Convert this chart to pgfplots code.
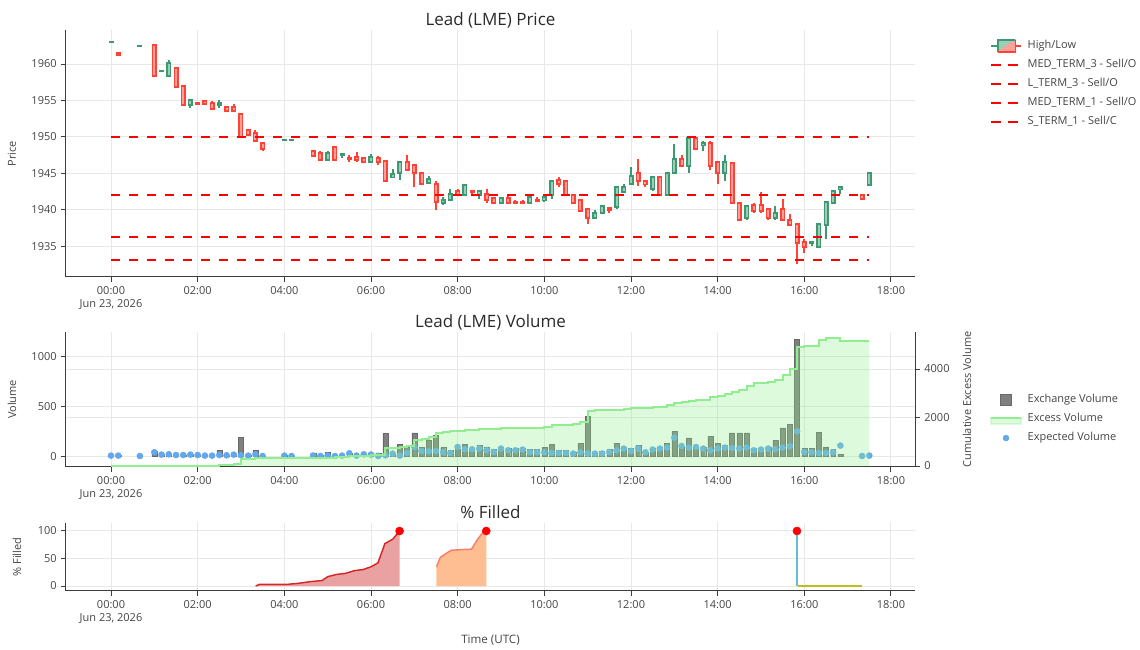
\documentclass[border=0pt]{standalone}
\usepackage{fontspec}
\setmainfont{Open Sans}
\usepackage{pgfplots}
\usepackage{pgfplotstable}
\pgfplotsset{compat=1.18}

\definecolor{incg}{RGB}{61,153,112}
\definecolor{incf}{RGB}{158,204,183}
\definecolor{decr}{RGB}{255,65,54}
\definecolor{decf}{RGB}{255,160,154}
\definecolor{txt}{RGB}{68,68,68}
\definecolor{ttl}{RGB}{42,42,42}
\definecolor{gridc}{RGB}{232,232,232}
\definecolor{axc}{RGB}{60,60,60}
\definecolor{barc}{RGB}{128,128,128}
\definecolor{barl}{RGB}{105,105,105}
\definecolor{exg}{RGB}{144,238,144}
\definecolor{expb}{RGB}{99,168,236}
\definecolor{fred}{RGB}{214,39,40}
\definecolor{fredf}{RGB}{233,161,161}
\definecolor{forl}{RGB}{250,125,105}
\definecolor{forf}{RGB}{255,190,145}
\definecolor{fteal}{RGB}{98,190,212}
\definecolor{folv}{RGB}{188,189,34}
\definecolor{folvf}{RGB}{232,233,175}

\newcommand{\tf}{\fontsize{8.25}{9.6}\selectfont}
\newcommand{\ttf}{\fontsize{12.75}{15}\selectfont}

% increasing candles: i o h l c  (i = 10-minute slot)
\pgfplotstableread{
i o h l c
0 1963.0 1963.0 1963.0 1963.0
4 1962.5 1962.5 1962.5 1962.5
7 1959.0 1959.0 1959.0 1959.0
8 1958.4 1960.55 1958.4 1960.1
11 1954.4 1955.0 1954.0 1955.0
15 1954.4 1955.0 1954.0 1954.6
24 1949.55 1949.55 1949.55 1949.55
25 1949.55 1949.55 1949.55 1949.55
30 1946.9 1948.0 1946.9 1947.8
32 1947.5 1947.6 1947.1 1947.6
36 1946.5 1947.6 1946.5 1947.3
39 1944.5 1945.6 1944.3 1944.9
40 1945.0 1946.6 1944.1 1946.6
44 1943.7 1944.6 1943.6 1944.2
46 1941.0 1941.8 1940.6 1941.4
47 1941.4 1942.9 1941.4 1942.2
49 1942.0 1943.6 1942.0 1943.4
51 1942.0 1942.6 1941.5 1942.6
54 1940.95 1941.8 1940.95 1941.6
58 1940.95 1941.8 1940.95 1941.8
60 1941.3 1941.8 1941.05 1941.7
61 1942.0 1944.0 1941.5 1944.0
67 1938.9 1940.0 1938.9 1939.6
68 1939.6 1940.5 1939.4 1940.5
70 1940.4 1943.1 1940.15 1943.1
71 1942.5 1943.6 1942.5 1943.1
72 1943.5 1945.9 1943.5 1944.6
75 1942.9 1944.5 1942.6 1944.5
77 1942.0 1945.05 1942.0 1945.05
78 1945.0 1949.0 1945.0 1947.0
80 1946.0 1949.8 1945.05 1949.8
82 1948.9 1949.5 1948.0 1949.2
85 1945.0 1947.5 1944.0 1946.5
88 1938.9 1940.5 1938.55 1940.5
92 1938.9 1940.5 1938.55 1939.55
97 1935.4 1935.55 1935.1 1935.55
98 1934.9 1938.1 1934.9 1938.1
99 1937.95 1941.05 1936.0 1941.05
100 1941.0 1942.6 1941.0 1942.6
101 1942.8 1943.1 1942.1 1943.1
105 1943.45 1945.1 1943.45 1945.1
}\incdata

% decreasing candles: i o h l c
\pgfplotstableread{
i o h l c
1 1961.5 1961.5 1961.1 1961.3
6 1962.6 1962.6 1958.4 1958.4
9 1959.5 1959.5 1956.9 1956.9
10 1957.0 1957.0 1954.4 1954.4
12 1954.6 1954.6 1954.5 1954.5
13 1955.0 1955.0 1954.5 1954.5
14 1954.6 1955.0 1953.9 1953.9
16 1954.1 1954.1 1953.5 1953.5
17 1954.1 1954.5 1953.5 1953.5
18 1953.1 1953.1 1949.95 1949.95
19 1951.0 1951.0 1950.1 1950.3
20 1950.6 1951.0 1949.5 1949.5
21 1949.1 1949.1 1948.1 1948.4
28 1948.0 1948.0 1947.4 1947.4
29 1947.8 1948.0 1946.9 1946.9
31 1948.6 1948.6 1946.9 1946.9
33 1947.1 1947.5 1946.6 1946.95
34 1947.2 1947.95 1946.5 1946.9
35 1947.1 1947.1 1946.5 1946.5
37 1947.1 1947.4 1946.1 1946.5
38 1946.7 1946.7 1944.0 1944.0
41 1946.6 1947.5 1945.5 1945.5
42 1946.1 1946.1 1943.1 1945.0
43 1945.0 1945.0 1943.5 1943.5
45 1943.6 1944.0 1940.0 1941.1
48 1942.6 1942.9 1942.0 1942.0
50 1942.6 1942.6 1942.2 1942.4
52 1942.2 1942.9 1941.0 1941.3
53 1941.6 1941.6 1940.95 1940.95
55 1941.6 1941.9 1940.95 1940.95
56 1941.1 1941.3 1940.95 1940.95
57 1941.1 1941.4 1940.95 1940.95
59 1941.4 1941.8 1941.25 1941.25
62 1944.1 1944.5 1943.1 1943.5
63 1944.0 1944.0 1942.0 1942.0
64 1942.0 1942.0 1940.95 1940.95
65 1941.3 1941.3 1939.9 1939.9
66 1940.1 1940.1 1938.1 1938.9
69 1940.2 1940.2 1939.6 1940.0
73 1945.1 1947.0 1943.2 1944.0
74 1944.0 1944.0 1943.2 1943.5
76 1944.5 1944.5 1942.0 1942.0
79 1947.0 1947.5 1946.0 1946.0
81 1949.8 1949.8 1948.4 1948.4
83 1949.2 1949.5 1945.5 1946.0
84 1946.5 1946.5 1943.6 1945.0
86 1946.5 1946.5 1940.95 1940.95
87 1941.0 1941.0 1938.55 1938.55
89 1940.6 1940.95 1939.55 1939.9
90 1940.6 1942.5 1939.55 1939.9
91 1940.1 1940.1 1938.55 1938.9
93 1940.1 1941.45 1938.55 1938.55
94 1938.6 1939.45 1937.95 1937.95
95 1938.1 1938.1 1932.6 1935.45
96 1935.55 1936.0 1934.05 1934.9
104 1942.1 1942.1 1941.5 1941.5
}\decdata

% exchange volume bars: i v
\pgfplotstableread{
i v
0 10
1 8
4 5
6 53
7 20
8 20
9 15
10 15
11 20
12 15
13 10
14 10
15 60
16 12
17 20
18 187
19 10
20 60
21 5
24 8
25 5
28 33
29 10
30 40
31 10
32 15
33 30
34 15
35 25
36 33
37 33
38 227
39 30
40 120
41 87
42 233
43 87
44 160
45 207
46 87
47 60
48 67
49 120
50 67
51 110
52 93
53 67
54 87
55 77
56 77
57 77
58 67
59 67
60 87
61 120
62 60
63 60
64 43
65 127
66 400
67 43
68 50
69 67
70 127
71 87
72 77
73 107
74 43
75 83
76 93
77 127
78 250
79 93
80 183
81 87
82 87
83 200
84 127
85 110
86 233
87 233
88 233
89 77
90 77
91 93
92 160
93 283
94 317
95 1167
96 77
97 77
98 240
99 93
100 67
101 20
}\voldata

% expected volume dots: i e
\pgfplotstableread{
i e
0 7
1 7
4 3
6 40
7 17
8 20
9 13
10 13
11 17
12 13
13 7
14 7
15 13
16 10
17 17
18 10
19 7
20 20
21 3
24 7
25 3
28 7
29 3
30 7
31 3
32 7
33 30
34 7
35 20
36 17
37 3
38 10
39 27
40 7
41 33
42 93
43 53
44 50
45 53
46 40
47 33
48 93
49 70
50 70
51 77
52 60
53 43
54 77
55 60
56 60
57 67
58 40
59 40
60 40
61 33
62 33
63 33
64 27
65 40
66 27
67 27
68 27
69 43
70 60
71 77
72 53
73 77
74 40
75 67
76 77
77 87
78 187
79 103
80 87
81 93
82 77
83 60
84 77
85 87
86 83
87 77
88 87
89 60
90 67
91 77
92 70
93 87
94 100
95 250
96 43
97 40
98 33
99 33
100 40
101 107
104 3
105 7
}\expdata

% cumulative excess volume: i x
\pgfplotstableread{
i x
0 0
1 0
2 0
3 0
4 0
5 0
6 5
7 5
8 8
9 8
10 10
11 10
12 12
13 12
14 20
15 40
16 50
17 70
18 276
19 280
20 316
21 316
22 318
23 320
24 322
25 324
26 326
27 328
28 335
29 340
30 350
31 355
32 360
33 400
34 410
35 420
36 440
37 460
38 728
39 740
40 800
41 840
42 1072
43 1100
44 1182
45 1347
46 1416
47 1430
48 1440
49 1485
50 1490
51 1520
52 1540
53 1545
54 1555
55 1560
56 1562
57 1565
58 1575
59 1580
60 1620
61 1690
62 1700
63 1710
64 1720
65 1800
66 2280
67 2290
68 2300
69 2305
70 2330
71 2345
72 2378
73 2400
74 2405
75 2430
76 2446
77 2500
78 2610
79 2620
80 2680
81 2722
82 2730
83 2830
84 2880
85 2955
86 3060
87 3134
88 3300
89 3436
90 3440
91 3450
92 3546
93 3753
94 3986
95 4921
96 4940
97 4960
98 5196
99 5265
100 5265
101 5170
102 5170
103 5170
104 5165
105 5165
}\excdata

\pgfplotsset{
  base/.style={
    scale only axis, width=636.75pt, anchor=south west,
    xmin=-1.0385, xmax=18.554,
    xtick={0,2,...,18},
    xticklabels={{00:00\\Jun 23, 2026},02:00,04:00,06:00,08:00,10:00,12:00,14:00,16:00,18:00},
    xticklabel style={align=center, font=\tf, text=txt},
    yticklabel style={font=\tf, text=txt},
    /pgf/number format/assume math mode=true,
    /pgf/number format/1000 sep={},
    scaled y ticks=false,
    axis x line*=bottom, axis y line*=left,
    axis line style={axc, line width=0.75pt},
    tick align=outside, major tick length=3.5pt,
    tick style={axc, line width=0.75pt},
    xmajorgrids, ymajorgrids,
    grid style={gridc, line width=0.75pt},
    title style={font=\ttf, text=ttl, anchor=center, at={(axis description cs:0.5,1)}},
    ylabel style={font=\tf, text=txt, anchor=center},
    legend cell align=left,
    legend style={draw=none, fill=none, font=\tf, text=txt, anchor=north west,
      inner sep=0pt, outer sep=0pt, row sep=2.25pt,
      nodes={inner sep=2pt, text height=6pt, text depth=2pt},
      /tikz/every odd column/.append style={column sep=2pt}},
  },
  cndl/.style 2 args={forget plot, draw=none, mark=none,
    error bars/.cd, y dir=both, y explicit, error mark=none,
    error bar style={solid, line width=#2, draw=#1}},
  hline/.style={red, dash pattern=on 6.5pt off 7pt, line width=1.5pt,
    legend image code/.code={\draw[red, line width=1.5pt, dash pattern=on 7.5pt off 5pt] (0pt,0pt) -- (22.5pt,0pt);}},
}

\begin{document}
\begin{tikzpicture}
\useasboundingbox (0,0) rectangle (855pt,487.5pt);

% ---------------- Price ----------------
\begin{axis}[base, at={(49.5pt,279.75pt)}, height=185.25pt,
  ymin=1930.78, ymax=1964.67, ytick={1935,1940,...,1960},
  title={Lead (LME) Price}, title style={yshift=1.5pt},
  ylabel={Price}, ylabel style={at={(axis description cs:-0.0636,0.5)}},
  legend style={at={(axis description cs:1.0887,0.968)}}]
\addlegendimage{legend image code/.code={
  \draw[incg, line width=1.2pt] (0pt,0pt) -- (5pt,0pt);
  \fill[incf] (5pt,-4.5pt) -- (5pt,4.5pt) -- (18pt,4.5pt) -- cycle;
  \fill[decf] (5pt,-4.5pt) -- (18pt,-4.5pt) -- (18pt,4.5pt) -- cycle;
  \draw[incg, line width=1.2pt] (5pt,-4.5pt) -- (5pt,4.5pt) -- (18pt,4.5pt);
  \draw[decr, line width=1.2pt] (5pt,-4.5pt) -- (18pt,-4.5pt) -- (18pt,4.5pt);
  \draw[decr, line width=1.2pt] (18pt,0pt) -- (22.5pt,0pt);}}
\addlegendentry{High/Low}
% wicks
\addplot[cndl={incg}{1.5pt}] table[x expr=\thisrow{i}/6, y expr={(\thisrow{h}+\thisrow{l})/2}, y error expr={(\thisrow{h}-\thisrow{l})/2}] {\incdata};
\addplot[cndl={decr}{1.5pt}] table[x expr=\thisrow{i}/6, y expr={(\thisrow{h}+\thisrow{l})/2}, y error expr={(\thisrow{h}-\thisrow{l})/2}] {\decdata};
% bodies
\addplot[cndl={incg}{3.75pt}] table[x expr=\thisrow{i}/6, y expr={(\thisrow{o}+\thisrow{c})/2}, y error expr={abs(\thisrow{o}-\thisrow{c})/2+0.137}] {\incdata};
\addplot[cndl={incf}{1.5pt}] table[x expr=\thisrow{i}/6, y expr={(\thisrow{o}+\thisrow{c})/2}, y error expr={max(abs(\thisrow{o}-\thisrow{c})/2-0.137,0)}] {\incdata};
\addplot[cndl={decr}{3.75pt}] table[x expr=\thisrow{i}/6, y expr={(\thisrow{o}+\thisrow{c})/2}, y error expr={abs(\thisrow{o}-\thisrow{c})/2+0.137}] {\decdata};
\addplot[cndl={decf}{1.5pt}] table[x expr=\thisrow{i}/6, y expr={(\thisrow{o}+\thisrow{c})/2}, y error expr={max(abs(\thisrow{o}-\thisrow{c})/2-0.137,0)}] {\decdata};
% order levels
\addplot[hline] coordinates {(0,1949.95) (17.5,1949.95)};
\addlegendentry{MED\_TERM\_3 - Sell/O}
\addplot[hline] coordinates {(0,1942.05) (17.5,1942.05)};
\addlegendentry{L\_TERM\_3 - Sell/O}
\addplot[hline] coordinates {(0,1936.2) (17.5,1936.2)};
\addlegendentry{MED\_TERM\_1 - Sell/O}
\addplot[hline] coordinates {(0,1933.08) (17.5,1933.08)};
\addlegendentry{S\_TERM\_1 - Sell/C}
\end{axis}

% ---------------- Volume ----------------
\begin{axis}[base, at={(49.5pt,137.25pt)}, height=101.25pt,
  ymin=-107, ymax=1243, ytick={0,500,1000},
  extra y ticks={387.8,872.9}, extra y tick labels={},
  extra y tick style={major tick length=0pt},
  title={Lead (LME) Volume}, title style={yshift=1.5pt},
  ylabel={Volume}, ylabel style={at={(axis description cs:-0.0636,0.5)}}]
\addplot[ybar, bar width=0.115, fill=barc, draw=barl, line width=0.3pt] table[x expr=\thisrow{i}/6, y=v] {\voldata};
\addplot[only marks, mark=*, mark size=2.25pt, color=expb, mark options={draw=none, fill=expb}] table[x expr=\thisrow{i}/6, y=e] {\expdata};
\end{axis}

\begin{axis}[scale only axis, width=636.75pt, anchor=south west,
  at={(49.5pt,137.25pt)}, height=101.25pt,
  xmin=-1.0385, xmax=18.554, ymin=-40, ymax=5526,
  axis x line=none, axis y line*=right,
  axis line style={axc, line width=0.75pt},
  tick align=outside, major tick length=3.5pt,
  tick style={axc, line width=0.75pt},
  ytick={0,2000,4000},
  yticklabel style={font=\tf, text=txt},
  /pgf/number format/assume math mode=true,
  /pgf/number format/1000 sep={},
  scaled y ticks=false,
  ylabel={Cumulative Excess Volume},
  ylabel style={font=\tf, text=txt, anchor=center, at={(axis description cs:1.0612,0.5)}},
  legend cell align=left,
  legend style={draw=none, fill=none, font=\tf, text=txt, anchor=north west,
    inner sep=0pt, outer sep=0pt, row sep=2.25pt,
    nodes={inner sep=2pt, text height=6pt, text depth=2pt},
    /tikz/every odd column/.append style={column sep=2pt},
    at={(axis description cs:1.0887,0.555)}}]
\addlegendimage{legend image code/.code={
  \path[draw=none, fill=none] (0pt,0pt) -- (22.5pt,0pt);
  \filldraw[fill=barc, draw=barl, line width=0.4pt] (7pt,-4pt) rectangle (15pt,4pt);}}
\addlegendentry{Exchange Volume}
\addplot[const plot, draw=none, fill=exg, fill opacity=0.3, forget plot] table[x expr=\thisrow{i}/6, y=x] {\excdata} \closedcycle;
\addplot[const plot, exg, line width=1.5pt,
  legend image code/.code={
    \fill[exg, opacity=0.3] (0pt,-3.5pt) rectangle (22.5pt,1pt);
    \draw[exg, line width=1.5pt] (0pt,1pt) -- (22.5pt,1pt);}] table[x expr=\thisrow{i}/6, y=x] {\excdata};
\addlegendentry{Excess Volume}
\addlegendimage{legend image code/.code={
  \path[draw=none, fill=none] (0pt,0pt) -- (22.5pt,0pt);
  \fill[expb] (11pt,0pt) circle (2.2pt);}}
\addlegendentry{Expected Volume}
\end{axis}

% ---------------- % Filled ----------------
\begin{axis}[base, at={(49.5pt,44.25pt)}, height=51pt,
  ymin=-9, ymax=114.5, ytick={0,50,100},
  title={\% Filled}, title style={yshift=2.25pt},
  ylabel={\% Filled}, ylabel style={at={(axis description cs:-0.0577,0.5)}},
  xlabel={Time (UTC)}, xlabel style={font=\fontsize{8.7}{10}\selectfont, text=txt, anchor=center, at={(axis description cs:0.5,0)}, yshift=-36.75pt}]
\addplot[draw=none, fill=fredf] coordinates {(3.34,0) (3.42,3) (3.6,3) (4.06,3) (4.33,5) (4.6,8) (4.87,10) (5.0,17) (5.2,21) (5.41,23) (5.62,28) (5.82,30) (6.0,35) (6.16,42) (6.32,77) (6.5,85) (6.66,100)} \closedcycle;
\addplot[fred, line width=1.1pt] coordinates {(3.34,0) (3.42,3) (3.6,3) (4.06,3) (4.33,5) (4.6,8) (4.87,10) (5.0,17) (5.2,21) (5.41,23) (5.62,28) (5.82,30) (6.0,35) (6.16,42) (6.32,77) (6.5,85) (6.66,100)};
\addplot[draw=none, fill=forf] coordinates {(7.51,35) (7.6,52) (7.75,60) (7.85,65) (8.05,66) (8.32,67) (8.46,85) (8.58,97) (8.66,100)} \closedcycle;
\addplot[forl, line width=1.1pt] coordinates {(7.51,35) (7.6,52) (7.75,60) (7.85,65) (8.05,66) (8.32,67) (8.46,85) (8.58,97) (8.66,100)};
\addplot[draw=none, fill=folvf] coordinates {(15.86,2) (17.33,2)} \closedcycle;
\addplot[folv, line width=1.1pt] coordinates {(15.86,0) (17.33,0)};
\addplot[fteal, line width=1.1pt] coordinates {(15.83,100) (15.83,0)};
\addplot[only marks, mark=*, mark size=3pt, color=red, mark options={draw=none, fill=red}] coordinates {(6.66,100) (8.66,100) (15.83,100)};
\end{axis}
\end{tikzpicture}
\end{document}
